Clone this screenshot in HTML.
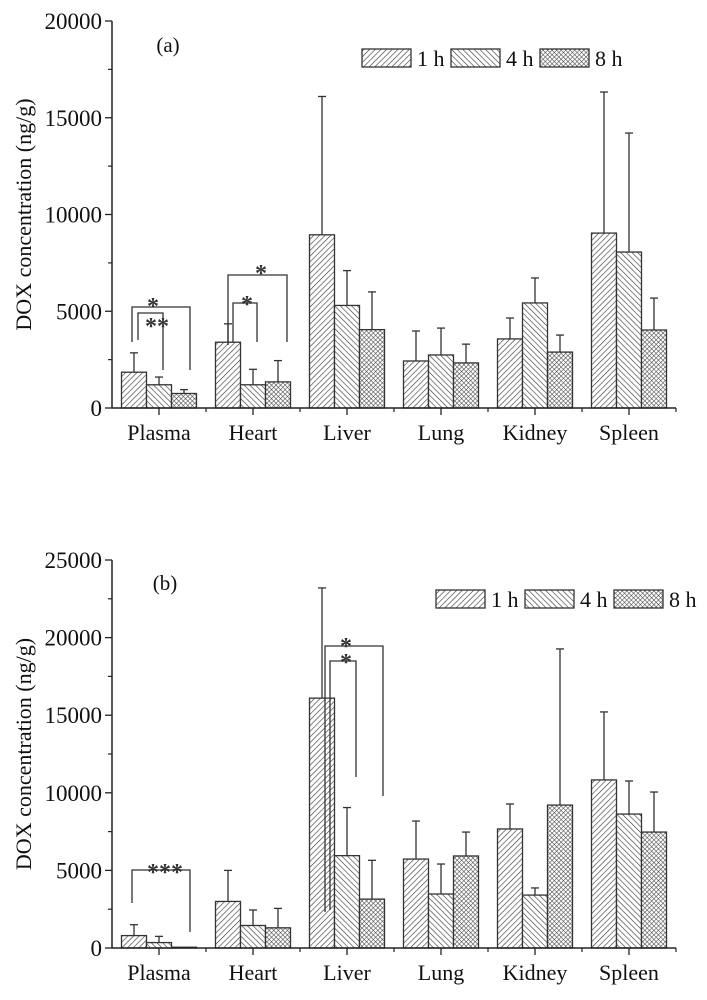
<!DOCTYPE html>
<html><head><meta charset="utf-8">
<style>
html,body{margin:0;padding:0;background:#fff;}
svg{display:block;font-family:"Liberation Serif",serif;}
</style></head>
<body>
<svg id="fig" width="707" height="1000" viewBox="0 0 707 1000" xmlns="http://www.w3.org/2000/svg">
<defs>
<pattern id="p1" patternUnits="userSpaceOnUse" width="4" height="4" patternTransform="rotate(45)">
<rect width="4" height="4" fill="#fff"/><line x1="0" y1="0" x2="0" y2="4" stroke="#333" stroke-width="1.2"/></pattern>
<pattern id="p4" patternUnits="userSpaceOnUse" width="4" height="4" patternTransform="rotate(-45)">
<rect width="4" height="4" fill="#fff"/><line x1="0" y1="0" x2="0" y2="4" stroke="#333" stroke-width="1.2"/></pattern>
<pattern id="p8" patternUnits="userSpaceOnUse" width="3.2" height="3.2" patternTransform="rotate(45)">
<rect width="3.2" height="3.2" fill="#fff"/><line x1="0" y1="0" x2="0" y2="3.2" stroke="#444" stroke-width="1.1"/><line x1="0" y1="0" x2="3.2" y2="0" stroke="#444" stroke-width="1.1"/></pattern>
</defs>
</svg>
<script>
const categories = ["Plasma","Heart","Liver","Lung","Kidney","Spleen"];
const seriesNames = ["1 h","4 h","8 h"];
// Panel (a)
const a1h = [1850,3400,8950,2430,3570,9040];
const a4h = [1200,1200,5300,2740,5430,8060];
const a8h = [750,1350,4050,2330,2890,4030];
const a1hErr = [2850,4350,16100,3980,4650,16330];
const a4hErr = [1600,2000,7100,4130,6720,14210];
const a8hErr = [950,2450,6000,3300,3770,5680];
const aTicks = [0,5000,10000,15000,20000];
// Panel (b)
const b1h = [800,3000,16100,5730,7670,10830];
const b4h = [350,1450,5950,3480,3410,8630];
const b8h = [50,1300,3150,5930,9210,7470];
const b1hErr = [1500,5000,23200,8180,9280,15210];
const b4hErr = [750,2450,9050,5410,3870,10760];
const b8hErr = [0,2550,5650,7470,19270,10050];
const bTicks = [0,5000,10000,15000,20000,25000];

const NS="http://www.w3.org/2000/svg";
const svg=document.getElementById('fig');
function mk(tag,attrs,parent){const e=document.createElementNS(NS,tag);for(const k in attrs)e.setAttribute(k,attrs[k]);(parent||svg).appendChild(e);return e;}
const fills=["url(#p1)","url(#p4)","url(#p8)"];

function panel(id,y0,yTop,maxV,ticks,vals,errs,label,labelY,legX,legY,brackets){
  const g=mk('g',{});
  
  
  const X0=112,X1=676,step=94;
  const ys=v=>y0-(v/maxV)*(y0-yTop);
  const xc=i=>X0+step*(i+0.5);
  for(let s=0;s<3;s++){
    for(let i=0;i<categories.length;i++){
      const x=xc(i)-37.5+s*25;
      const ty=ys(vals[s][i]);
      const ey=ys(errs[s][i]);
      if(errs[s][i]>vals[s][i]){
        const l=mk('line',{x1:x+12.5,x2:x+12.5,y1:ty,y2:ey,stroke:'#333','stroke-width':1.3},g);
        
        
        const c=mk('line',{x1:x+8.5,x2:x+16.5,y1:ey,y2:ey,stroke:'#333','stroke-width':1.3},g);
        
        
      }
      const r=mk('rect',{x:x,y:ty,width:25,height:Math.max(0,y0-ty),fill:fills[s],stroke:'#333','stroke-width':1.3},g);
      
      
    }
  }
  const ya=mk('line',{x1:X0,x2:X0,y1:yTop,y2:y0,stroke:'#222','stroke-width':1.5},g);
  
  
  const xa=mk('line',{x1:X0,x2:X1,y1:y0,y2:y0,stroke:'#222','stroke-width':1.5},g);
  
  
  for(let i=0;i<ticks.length;i++){
    const y=ys(ticks[i]);
    mk('line',{x1:X0-7,x2:X0,y1:y,y2:y,stroke:'#222','stroke-width':1.3},g);
    if(i<ticks.length-1){const ym=ys((ticks[i]+ticks[i+1])/2);mk('line',{x1:X0-4,x2:X0,y1:ym,y2:ym,stroke:'#222','stroke-width':1.2},g);}
    const t=mk('text',{x:X0-10,y:y+8,'text-anchor':'end','font-size':23,fill:'#111'},g);
    t.textContent=ticks[i];
    
    
  }
  for(let i=0;i<categories.length;i++){
    mk('line',{x1:xc(i),x2:xc(i),y1:y0,y2:y0+7,stroke:'#222','stroke-width':1.3},g);
    mk('line',{x1:X0+step*(i+1),x2:X0+step*(i+1),y1:y0,y2:y0+4,stroke:'#222','stroke-width':1.2},g);
    const t=mk('text',{x:xc(i),y:y0+32,'text-anchor':'middle','font-size':22,fill:'#111'},g);
    t.textContent=categories[i];
    
    
  }
  const yt=mk('text',{x:0,y:0,'text-anchor':'middle','font-size':22,fill:'#111',transform:`translate(31,${(y0+yTop)/2}) rotate(-90)`},g);
  yt.textContent='DOX concentration (ng/g)';
  
  
  const pl=mk('text',{x:label[0],y:labelY,'text-anchor':'middle','font-size':21,fill:'#111'},g);
  pl.textContent=label[1];
  
  
  for(let s=0;s<3;s++){
    const lx=legX+s*89;
    const lr=mk('rect',{x:lx,y:legY,width:49,height:18,fill:fills[s],stroke:'#333','stroke-width':1.3},g);
    
    
    const lt=mk('text',{x:lx+55,y:legY+17,'font-size':22,fill:'#111'},g);
    lt.textContent=seriesNames[s];
    
    
  }
  for(const b of brackets){
    const p=mk('polyline',{points:`${b[0]},${b[1]} ${b[0]},${b[2]} ${b[3]},${b[2]} ${b[3]},${b[4]}`,fill:'none',stroke:'#333','stroke-width':1.3},g);
    
    
    const st=mk('text',{x:b[6],y:b[7],'text-anchor':'middle','font-size':24,'font-weight':'bold',fill:'#333'},g);
    st.textContent=b[5];
    
    
  }
}
panel('a',408,21,20000,aTicks,[a1h,a4h,a8h],[a1hErr,a4hErr,a8hErr],[168,'(a)'],52,362,49,
 [[132,342,307,190,370,'*',153,314],[138,340,313,163,370,'**',157,334],
  [228,345,275,287,342,'*',261,281],[233,342,303,257,342,'*',247,312]]);
panel('b',948,560,25000,bTicks,[b1h,b4h,b8h],[b1hErr,b4hErr,b8hErr],[165,'(b)'],590,436,590,
 [[132,903,870,190,932,'***',165,880],[325,912,646,383,796,'*',346,654],[330,910,661,356,777,'*',346,670]]);
</script>
</body></html>
